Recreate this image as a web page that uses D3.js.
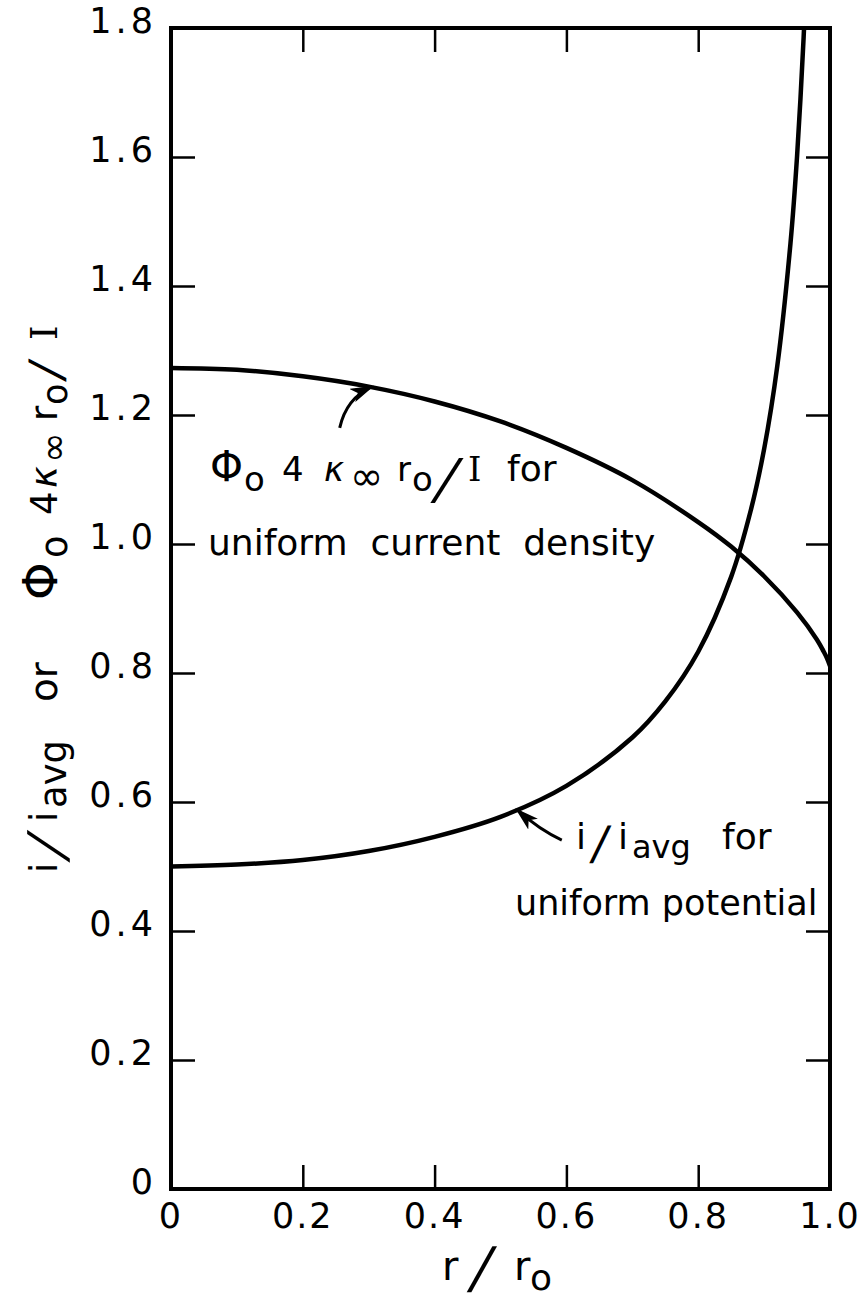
<!DOCTYPE html>
<html>
<head>
<meta charset="utf-8">
<script src="https://cdn.jsdelivr.net/npm/d3@7/dist/d3.min.js"></script>
<style>
  html, body { margin: 0; padding: 0; background: #fff; }
  svg text { font-family: "DejaVu Sans", sans-serif; fill: #000; }
</style>
</head>
<body>
<svg id="chart" width="867" height="1300"></svg>
<script>
// Radial position on the disk electrode, r / r0
const rCurrent = [0, 0.1, 0.2, 0.3, 0.4, 0.5, 0.6, 0.7, 0.8, 0.85, 0.9, 0.95, 0.98, 0.99, 0.995, 1.0];
// Phi0 * 4 kappa r0 / I for uniform current density
const phiUniformCurrent = [1.273, 1.270, 1.260, 1.244, 1.221, 1.190, 1.149, 1.099, 1.034, 0.996, 0.950, 0.894, 0.852, 0.834, 0.824, 0.811];

const rPotential = [0, 0.1, 0.2, 0.3, 0.4, 0.5, 0.6, 0.7, 0.75, 0.8, 0.85, 0.88, 0.9, 0.92, 0.94, 0.95, 0.96, 0.965];
// i / i_avg for uniform potential
const iUniformPotential = [0.500, 0.503, 0.510, 0.524, 0.546, 0.577, 0.625, 0.700, 0.756, 0.833, 0.949, 1.053, 1.147, 1.276, 1.466, 1.601, 1.786, 1.907];

const xTicks = [0, 0.2, 0.4, 0.6, 0.8, 1.0];
const xTickLabels = ["0", "0.2", "0.4", "0.6", "0.8", "1.0"];
const yTicks = [0, 0.2, 0.4, 0.6, 0.8, 1.0, 1.2, 1.4, 1.6, 1.8];
const yTickLabels = ["0", "0.2", "0.4", "0.6", "0.8", "1.0", "1.2", "1.4", "1.6", "1.8"];

const svg = d3.select("#chart");
const pLeft = 171, pRight = 830, pTop = 28, pBottom = 1189;

const x = d3.scaleLinear().domain([0, 1]).range([pLeft, pRight]);
const y = d3.scaleLinear().domain([0, 1.8]).range([pBottom, pTop]);

const defs = svg.append("defs");
// clip for curves
defs.append("clipPath").attr("id", "plotClip")
  .append("rect").attr("x", pLeft).attr("y", pTop).attr("width", pRight - pLeft).attr("height", pBottom - pTop);

// arrowhead marker
defs.append("marker")
  .attr("id", "head")
  .attr("viewBox", "0 0 10 6")
  .attr("refX", 9).attr("refY", 3)
  .attr("markerUnits", "userSpaceOnUse")
  .attr("markerWidth", 24).attr("markerHeight", 14.4)
  .attr("orient", "auto")
  .append("path").attr("d", "M0,0 L10,3 L0,6 L2.5,3 Z").attr("fill", "#000");

// inward ticks on all four sides
const tickLen = 24;
const axisBottom = d3.axisBottom(x).tickValues(xTicks).tickSize(-tickLen).tickFormat("");
const axisTop = d3.axisTop(x).tickValues(xTicks.slice(1, -1)).tickSize(-tickLen).tickFormat("");
const axisLeft = d3.axisLeft(y).tickValues(yTicks).tickSize(-tickLen).tickFormat("");
const axisRight = d3.axisRight(y).tickValues(yTicks.slice(1, -1)).tickSize(-tickLen).tickFormat("");

function styleAxis(g) {
  g.select(".domain").remove();
  g.selectAll(".tick line").attr("stroke", "#000").attr("stroke-width", 2.5);
}
svg.append("g").attr("transform", `translate(0,${pBottom})`).call(axisBottom).call(styleAxis);
svg.append("g").attr("transform", `translate(0,${pTop})`).call(axisTop).call(styleAxis);
svg.append("g").attr("transform", `translate(${pLeft},0)`).call(axisLeft).call(styleAxis);
svg.append("g").attr("transform", `translate(${pRight},0)`).call(axisRight).call(styleAxis);

// frame
svg.append("rect")
  .attr("x", pLeft).attr("y", pTop).attr("width", pRight - pLeft).attr("height", pBottom - pTop)
  .attr("fill", "none").attr("stroke", "#000").attr("stroke-width", 4);

// tick labels
svg.append("g").selectAll("text").data(yTicks).join("text")
  .attr("x", pLeft - 14).attr("y", d => y(d) + 5)
  .attr("text-anchor", "end")
  .attr("font-size", 35).attr("letter-spacing", 4)
  .text((d, i) => yTickLabels[i]);

svg.append("g").selectAll("text").data(xTicks).join("text")
  .attr("x", d => x(d)).attr("y", pBottom + 39)
  .attr("text-anchor", "middle")
  .attr("font-size", 35).attr("letter-spacing", 2)
  .text((d, i) => xTickLabels[i]);

// curves
const line = d3.line().x(d => x(d[0])).y(d => y(d[1])).curve(d3.curveCatmullRom.alpha(0.5));
const plot = svg.append("g").attr("clip-path", "url(#plotClip)");
plot.append("path")
  .datum(rCurrent.map((r, i) => [r, phiUniformCurrent[i]]))
  .attr("d", line).attr("fill", "none").attr("stroke", "#000").attr("stroke-width", 4.5);
plot.append("path")
  .datum(rPotential.map((r, i) => [r, iUniformPotential[i]]))
  .attr("d", line).attr("fill", "none").attr("stroke", "#000").attr("stroke-width", 4.5);

// pointer arrows (tail, control, head) in data units
const arrows = [
  [[0.256, 1.180], [0.266, 1.226], [0.305, 1.244]],
  [[0.593, 0.541], [0.560, 0.556], [0.525, 0.588]]
];
svg.append("g").selectAll("path").data(arrows).join("path")
  .attr("d", d => `M${x(d[0][0])},${y(d[0][1])} Q${x(d[1][0])},${y(d[1][1])} ${x(d[2][0])},${y(d[2][1])}`)
  .attr("fill", "none").attr("stroke", "#000").attr("stroke-width", 3)
  .attr("marker-end", "url(#head)");

// hand-lettered style slash: a "/" glyph sheared to a shallower slope
function slash(parent, sx, sy, size, skew) {
  parent.append("text")
    .attr("transform", `translate(${sx},${sy}) skewX(${skew})`)
    .attr("font-size", size)
    .text("/");
}

// annotation for the uniform current density curve
const a1y = y(1.098);
const a1 = svg.append("text").attr("font-size", 34);
a1.append("tspan").attr("x", 210).attr("y", a1y).attr("font-size", 42).text("Φ");
a1.append("tspan").attr("x", 244).attr("y", a1y + 10).text("o");
a1.append("tspan").attr("x", 282).attr("y", a1y).text("4");
a1.append("tspan").attr("x", 324).attr("y", a1y).attr("font-style", "italic").text("κ");
a1.append("tspan").attr("x", 350).attr("y", a1y + 9).attr("font-size", 40).text("∞");
a1.append("tspan").attr("x", 397).attr("y", a1y).text("r");
a1.append("tspan").attr("x", 412).attr("y", a1y + 10).text("o");
a1.append("tspan").attr("x", 468).attr("y", a1y).attr("font-family", "DejaVu Serif").text("I");
a1.append("tspan").attr("x", 507).attr("y", a1y).attr("font-size", 36).text("for");
slash(svg, 432, a1y + 17, 55, -18);

svg.append("text").attr("x", 208).attr("y", y(0.983))
  .attr("font-size", 36).attr("xml:space", "preserve")
  .text("uniform  current  density");

// annotation for the uniform potential curve
const a2y = y(0.527);
const a2 = svg.append("text").attr("font-size", 36);
a2.append("tspan").attr("x", 576).attr("y", a2y).text("i");
a2.append("tspan").attr("x", 618).attr("y", a2y).text("i");
a2.append("tspan").attr("x", 632).attr("y", a2y + 9).attr("font-size", 32).text("avg");
a2.append("tspan").attr("x", 722).attr("y", a2y).text("for");
slash(svg, 590, a2y + 10, 46, -10);

svg.append("text").attr("x", 515).attr("y", y(0.425))
  .attr("font-size", 35).text("uniform potential");

// y-axis title, rotated; x runs upward along the axis, y is offset from the baseline
const ylg = svg.append("g").attr("transform", "translate(57,0) rotate(-90)");
const yl = ylg.append("text").attr("font-size", 37);
yl.append("tspan").attr("x", -873).attr("y", 0).text("i");
yl.append("tspan").attr("x", -822).attr("y", 0).text("i");
yl.append("tspan").attr("x", -808).attr("y", 9).attr("font-size", 37).text("avg");
yl.append("tspan").attr("x", -702).attr("y", 0).attr("font-size", 39).text("or");
yl.append("tspan").attr("x", -600).attr("y", 0).attr("font-size", 48).text("Φ");
yl.append("tspan").attr("x", -558).attr("y", 10).text("o");
yl.append("tspan").attr("x", -515).attr("y", 0).text("4");
yl.append("tspan").attr("x", -488).attr("y", 0).attr("font-style", "italic").text("κ");
yl.append("tspan").attr("x", -463).attr("y", 9).text("∞");
yl.append("tspan").attr("x", -421).attr("y", 0).text("r");
yl.append("tspan").attr("x", -405).attr("y", 10).attr("font-size", 35).text("o");
yl.append("tspan").attr("x", -340).attr("y", 0).attr("font-family", "DejaVu Serif").text("I");
slash(ylg, -861, 8, 52, -20);
slash(ylg, -381, 5, 46, -12);

// x-axis title
const xl = svg.append("text").attr("font-size", 40);
xl.append("tspan").attr("x", 442).attr("y", pBottom + 91).text("r");
xl.append("tspan").attr("x", 514).attr("y", pBottom + 91).text("r");
xl.append("tspan").attr("x", 530).attr("y", pBottom + 101).attr("font-size", 36).text("o");
slash(svg, 468, pBottom + 98, 56, -14);
</script>
</body>
</html>
